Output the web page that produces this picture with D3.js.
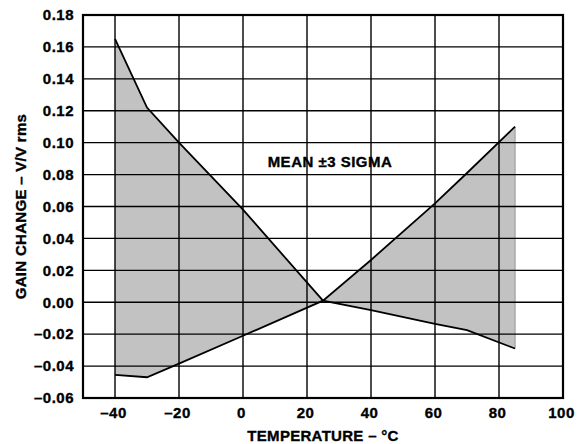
<!DOCTYPE html>
<html>
<head>
<meta charset="utf-8">
<script src="https://cdn.jsdelivr.net/npm/d3@7"></script>
<style>
  body { margin: 0; background: #fff; }
  text { font-family: "Liberation Sans", Arial, sans-serif; font-weight: bold; fill: #000;
         stroke: #000; stroke-width: 0.35px; }
</style>
</head>
<body>
<script>
// temperature points (deg C) and the +/-3 sigma envelope of gain change
const temps = [-40, -30, -20, 0, 25, 40, 60, 70, 85];
const upper = [0.165, 0.122, 0.100, 0.058, 0.001, -0.005, -0.0135, -0.0175, -0.029];
const lower = [-0.0455, -0.047, -0.0385, -0.021, 0.001, 0.0265, 0.062, 0.081, 0.110];

const xTicks = [-40, -20, 0, 20, 40, 60, 80, 100];
const yTicks = [-0.06, -0.04, -0.02, 0, 0.02, 0.04, 0.06, 0.08, 0.10, 0.12, 0.14, 0.16, 0.18];

const width = 586, height = 444;
const margin = {top: 15, right: 23, bottom: 46, left: 83};
const fontSize = "15px";

const svg = d3.select("body").append("svg")
    .attr("width", width)
    .attr("height", height);

const x = d3.scaleLinear().domain([-50, 100]).range([margin.left, width - margin.right]);
const y = d3.scaleLinear().domain([-0.06, 0.18]).range([height - margin.bottom, margin.top]);

const rows = temps.map((t, i) => ({t: t, hi: upper[i], lo: lower[i]}));

// shaded band
const area = d3.area()
    .x(d => x(d.t))
    .y0(d => y(d.lo))
    .y1(d => y(d.hi));

svg.append("path")
    .datum(rows)
    .attr("d", area)
    .attr("fill", "#c2c2c2");

// right edge of the band
const last = rows[rows.length - 1];
svg.append("line")
    .attr("x1", x(last.t)).attr("x2", x(last.t))
    .attr("y1", y(last.hi)).attr("y2", y(last.lo))
    .attr("stroke", "#a9a9a9")
    .attr("stroke-width", 1.5);

// grid
svg.append("g")
    .selectAll("line")
    .data(xTicks.filter(d => d < 100))
    .enter()
    .append("line")
    .attr("x1", d => x(d)).attr("x2", d => x(d))
    .attr("y1", y(0.18)).attr("y2", y(-0.06))
    .attr("stroke", "#000")
    .attr("stroke-width", 1.4);

svg.append("g")
    .selectAll("line")
    .data(yTicks.filter(d => d > -0.06 && d < 0.18))
    .enter()
    .append("line")
    .attr("x1", x(-50)).attr("x2", x(100))
    .attr("y1", d => y(d)).attr("y2", d => y(d))
    .attr("stroke", "#000")
    .attr("stroke-width", 1.4);

// envelope lines
svg.append("path")
    .datum(rows)
    .attr("d", d3.line().x(d => x(d.t)).y(d => y(d.hi)))
    .attr("fill", "none")
    .attr("stroke", "#000")
    .attr("stroke-width", 1.8);

svg.append("path")
    .datum(rows)
    .attr("d", d3.line().x(d => x(d.t)).y(d => y(d.lo)))
    .attr("fill", "none")
    .attr("stroke", "#000")
    .attr("stroke-width", 1.8);

// frame
svg.append("rect")
    .attr("x", x(-50)).attr("y", y(0.18))
    .attr("width", x(100) - x(-50))
    .attr("height", y(-0.06) - y(0.18))
    .attr("fill", "none")
    .attr("stroke", "#000")
    .attr("stroke-width", 2.2);

const dash = s => s.replace("-", "\u2013").replace("\u2212", "\u2013");

// axes (labels only, the grid is drawn above)
const xAxis = svg.append("g")
    .attr("transform", `translate(0,${height - margin.bottom})`)
    .call(d3.axisBottom(x).tickValues(xTicks).tickSize(0).tickPadding(9)
        .tickFormat(d => dash(String(d))));
xAxis.select(".domain").remove();
xAxis.selectAll("text")
    .style("font-size", fontSize)
    .style("letter-spacing", "0.5px")
    .attr("dx", "-2");

const yAxis = svg.append("g")
    .attr("transform", `translate(${margin.left},0)`)
    .call(d3.axisLeft(y).tickValues(yTicks).tickSize(0).tickPadding(9)
        .tickFormat(d => dash(d3.format(".2f")(d))));
yAxis.select(".domain").remove();
yAxis.selectAll("text")
    .style("font-size", fontSize)
    .style("letter-spacing", "0.5px");

// titles
svg.append("text")
    .attr("x", (x(-50) + x(100)) / 2)
    .attr("y", 441)
    .attr("text-anchor", "middle")
    .style("font-size", fontSize)
    .style("letter-spacing", "0.3px")
    .text("TEMPERATURE \u2013 \u00B0C");

svg.append("text")
    .attr("transform", `translate(26,${(y(0.18) + y(-0.06)) / 2}) rotate(-90)`)
    .attr("text-anchor", "middle")
    .style("font-size", fontSize)
    .style("letter-spacing", "0.3px")
    .text("GAIN CHANGE \u2013 V/V rms");

svg.append("text")
    .attr("x", 330)
    .attr("y", 167)
    .attr("text-anchor", "middle")
    .style("font-size", fontSize)
    .style("letter-spacing", "0.5px")
    .text("MEAN \u00B13 SIGMA");
</script>
</body>
</html>
